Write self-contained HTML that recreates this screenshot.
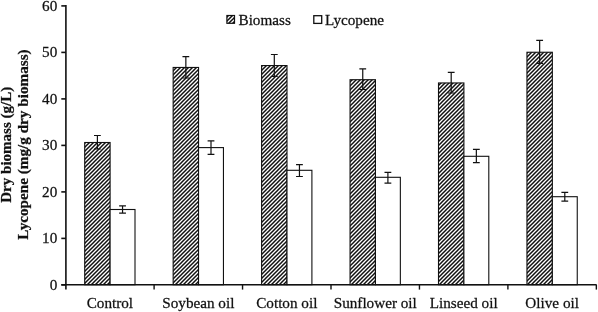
<!DOCTYPE html><html><head><meta charset="utf-8"><style>html,body{margin:0;padding:0;background:#fff;}body{width:598px;height:312px;overflow:hidden;}svg{display:block;}text{font-family:"Liberation Serif",serif;fill:#111;stroke:#111;stroke-width:0.25px;}</style></head><body><svg width="598" height="312" viewBox="0 0 598 312"><defs><pattern id="h" width="4" height="4" patternUnits="userSpaceOnUse"><rect width="4" height="4" fill="#fff"/><path d="M-1,5 L5,-1 M-1,1 L1,-1 M3,5 L5,3" stroke="#111" stroke-width="1.5"/></pattern></defs><rect x="84.70" y="142.50" width="25.40" height="142.20" fill="url(#h)" stroke="#111" stroke-width="1.1"/><rect x="110.10" y="209.50" width="24.90" height="75.20" fill="#fff" stroke="#111" stroke-width="1.1"/><path d="M97.40,135.50V149.00M94.00,135.50H100.80M94.00,149.00H100.80" stroke="#111" stroke-width="1.2" fill="none"/><path d="M122.55,205.80V213.20M119.15,205.80H125.95M119.15,213.20H125.95" stroke="#111" stroke-width="1.2" fill="none"/><rect x="173.15" y="67.45" width="25.40" height="217.25" fill="url(#h)" stroke="#111" stroke-width="1.1"/><rect x="198.55" y="147.60" width="24.90" height="137.10" fill="#fff" stroke="#111" stroke-width="1.1"/><path d="M185.85,56.70V78.00M182.45,56.70H189.25M182.45,78.00H189.25" stroke="#111" stroke-width="1.2" fill="none"/><path d="M211.00,140.90V154.40M207.60,140.90H214.40M207.60,154.40H214.40" stroke="#111" stroke-width="1.2" fill="none"/><rect x="261.60" y="65.55" width="25.40" height="219.15" fill="url(#h)" stroke="#111" stroke-width="1.1"/><rect x="287.00" y="170.30" width="24.90" height="114.40" fill="#fff" stroke="#111" stroke-width="1.1"/><path d="M274.30,54.50V76.50M270.90,54.50H277.70M270.90,76.50H277.70" stroke="#111" stroke-width="1.2" fill="none"/><path d="M299.45,164.70V176.50M296.05,164.70H302.85M296.05,176.50H302.85" stroke="#111" stroke-width="1.2" fill="none"/><rect x="350.05" y="79.70" width="25.40" height="205.00" fill="url(#h)" stroke="#111" stroke-width="1.1"/><rect x="375.45" y="177.30" width="24.90" height="107.40" fill="#fff" stroke="#111" stroke-width="1.1"/><path d="M362.75,68.80V89.50M359.35,68.80H366.15M359.35,89.50H366.15" stroke="#111" stroke-width="1.2" fill="none"/><path d="M387.90,172.40V183.10M384.50,172.40H391.30M384.50,183.10H391.30" stroke="#111" stroke-width="1.2" fill="none"/><rect x="438.50" y="82.95" width="25.40" height="201.75" fill="url(#h)" stroke="#111" stroke-width="1.1"/><rect x="463.90" y="156.30" width="24.90" height="128.40" fill="#fff" stroke="#111" stroke-width="1.1"/><path d="M451.20,72.40V93.00M447.80,72.40H454.60M447.80,93.00H454.60" stroke="#111" stroke-width="1.2" fill="none"/><path d="M476.35,149.40V162.70M472.95,149.40H479.75M472.95,162.70H479.75" stroke="#111" stroke-width="1.2" fill="none"/><rect x="526.95" y="52.25" width="25.40" height="232.45" fill="url(#h)" stroke="#111" stroke-width="1.1"/><rect x="552.35" y="196.70" width="24.90" height="88.00" fill="#fff" stroke="#111" stroke-width="1.1"/><path d="M539.65,40.30V63.40M536.25,40.30H543.05M536.25,63.40H543.05" stroke="#111" stroke-width="1.2" fill="none"/><path d="M564.80,192.40V201.20M561.40,192.40H568.20M561.40,201.20H568.20" stroke="#111" stroke-width="1.2" fill="none"/><path d="M65.9,5.10V289.6" stroke="#111" stroke-width="1.6"/><path d="M61.3,284.7H596.6" stroke="#111" stroke-width="1.6"/><path d="M61.3,284.90H65.9" stroke="#111" stroke-width="1.6"/><path d="M61.3,238.40H65.9" stroke="#111" stroke-width="1.6"/><path d="M61.3,191.90H65.9" stroke="#111" stroke-width="1.6"/><path d="M61.3,145.40H65.9" stroke="#111" stroke-width="1.6"/><path d="M61.3,98.90H65.9" stroke="#111" stroke-width="1.6"/><path d="M61.3,52.40H65.9" stroke="#111" stroke-width="1.6"/><path d="M61.3,5.90H65.9" stroke="#111" stroke-width="1.6"/><path d="M154.10,284.7V289.6" stroke="#111" stroke-width="1.4"/><path d="M242.55,284.7V289.6" stroke="#111" stroke-width="1.4"/><path d="M331.00,284.7V289.6" stroke="#111" stroke-width="1.4"/><path d="M419.45,284.7V289.6" stroke="#111" stroke-width="1.4"/><path d="M507.90,284.7V289.6" stroke="#111" stroke-width="1.4"/><path d="M596.35,284.7V289.6" stroke="#111" stroke-width="1.4"/><text transform="translate(57.30,289.70) scale(1,1.025)" font-size="15.2" text-anchor="end">0</text><text transform="translate(57.30,243.20) scale(1,1.025)" font-size="15.2" text-anchor="end">10</text><text transform="translate(57.30,196.70) scale(1,1.025)" font-size="15.2" text-anchor="end">20</text><text transform="translate(57.30,150.20) scale(1,1.025)" font-size="15.2" text-anchor="end">30</text><text transform="translate(57.30,103.70) scale(1,1.025)" font-size="15.2" text-anchor="end">40</text><text transform="translate(57.30,57.20) scale(1,1.025)" font-size="15.2" text-anchor="end">50</text><text transform="translate(57.30,10.70) scale(1,1.025)" font-size="15.2" text-anchor="end">60</text><text transform="translate(109.88,307.50) scale(1,1.025)" font-size="15.2" text-anchor="middle">Control</text><text transform="translate(198.33,307.50) scale(1,1.025)" font-size="15.2" text-anchor="middle">Soybean oil</text><text transform="translate(286.78,307.50) scale(1,1.025)" font-size="15.2" text-anchor="middle">Cotton oil</text><text transform="translate(375.23,307.50) scale(1,1.025)" font-size="15.2" text-anchor="middle">Sunflower oil</text><text transform="translate(463.68,307.50) scale(1,1.025)" font-size="15.2" text-anchor="middle">Linseed oil</text><text transform="translate(552.12,307.50) scale(1,1.025)" font-size="15.2" text-anchor="middle">Olive oil</text><rect x="226.9" y="15.5" width="7.6" height="7.8" fill="url(#h)" stroke="#111" stroke-width="1.2"/><text transform="translate(238.50,24.60) scale(1,1.025)" font-size="15.2">Biomass</text><rect x="313.8" y="15.7" width="7.9" height="7.7" fill="#fff" stroke="#111" stroke-width="1.3"/><text transform="translate(325.00,24.80) scale(1,1.025)" font-size="15.2">Lycopene</text><text transform="translate(10.9,144.75) rotate(-90)" font-size="15.03" font-weight="bold" text-anchor="middle">Dry biomass (g/L)</text><text transform="translate(28.1,144.5) rotate(-90)" font-size="15.2" font-weight="bold" text-anchor="middle">Lycopene (mg/g dry biomass)</text></svg></body></html>
